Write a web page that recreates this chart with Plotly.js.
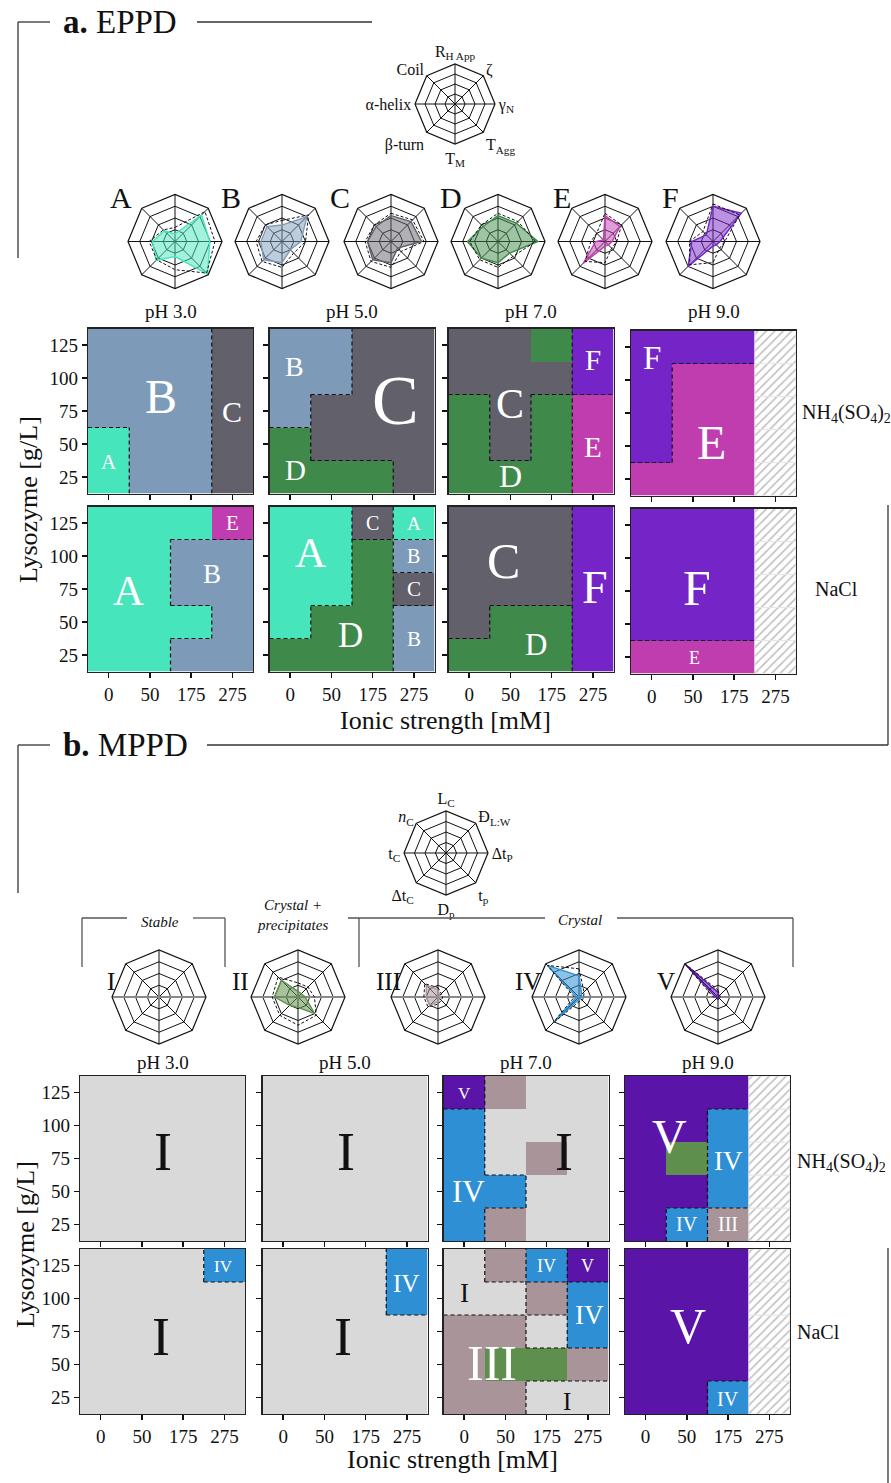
<!DOCTYPE html>
<html>
<head>
<meta charset="utf-8">
<script src="https://cdn.plot.ly/plotly-3.0.1.min.js"></script>
<style>
  html, body { margin: 0; padding: 0; background: #ffffff; }
  #chart { width: 891px; height: 1483px; }
</style>
</head>
<body>
<div id="chart"></div>
<script>
// ---------------------------------------------------------------
// Phase diagrams of lysozyme: EPPD (a) and MPPD (b)
// ---------------------------------------------------------------
const W = 891, H = 1483;
const SERIF = 'Liberation Serif, Times New Roman, serif';

// ---- axes / categories ----
const ionicStrength = ['0', '50', '175', '275'];      // mM
const lysozyme = [25, 50, 75, 100, 125];              // g/L (bottom -> top)
const pHLabels = ['pH 3.0', 'pH 5.0', 'pH 7.0', 'pH 9.0'];
const saltLabels = ['NH<sub>4</sub>(SO<sub>4</sub>)<sub>2</sub>', 'NaCl'];

// ---- phases and colours ----
const eppdPhases = ['A', 'B', 'C', 'D', 'E', 'F'];
const eppdColors = ['#47e5bc', '#7d9bb8', '#62616b', '#3f8a4a', '#c03db0', '#7524c8'];
const mppdPhases = ['I', 'II', 'III', 'IV', 'V'];
const mppdColors = ['#d9d9d9', '#5e8f4c', '#a89499', '#2f8fd4', '#5a14a8'];

// ---- phase grids ----
// rows from 125 g/L (top) down to 25 g/L; columns follow ionicStrength
// 'X' = not measured; 'P(Q)' = an island of phase P lying inside region Q
const eppd_NH4_pH3 = ['B B B C', 'B B B C', 'B B B C', 'A B B C', 'A B B C'];
const eppd_NH4_pH5 = ['B B C C', 'B B C C', 'B C C C', 'D C C C', 'D D D C'];
const eppd_NH4_pH7 = ['C C D(C) F', 'C C C F', 'D C D E', 'D C D E', 'D D D E'];
const eppd_NH4_pH9 = ['F F F X', 'F E E X', 'F E E X', 'F E E X', 'E E E X'];
const eppd_NaCl_pH3 = ['A A A E(A)', 'A A B B', 'A A B B', 'A A A B', 'A A B B'];
const eppd_NaCl_pH5 = ['A A C A', 'A A D B', 'A A D C', 'A D D B', 'D D D B'];
const eppd_NaCl_pH7 = ['C C C F', 'C C C F', 'C C C F', 'C D D F', 'D D D F'];
const eppd_NaCl_pH9 = ['F F F X', 'F F F X', 'F F F X', 'F F F X', 'E E E X'];

const mppd_NH4_pH3 = ['I I I I', 'I I I I', 'I I I I', 'I I I I', 'I I I I'];
const mppd_NH4_pH5 = ['I I I I', 'I I I I', 'I I I I', 'I I I I', 'I I I I'];
const mppd_NH4_pH7 = ['V III(I) I I', 'IV I I I', 'IV I III(I) I', 'IV IV I I', 'IV III(I) I I'];
const mppd_NH4_pH9 = ['V V V X', 'V V IV X', 'V II(V) IV X', 'V V IV X', 'V IV III X'];
const mppd_NaCl_pH3 = ['I I I IV', 'I I I I', 'I I I I', 'I I I I', 'I I I I'];
const mppd_NaCl_pH5 = ['I I I IV', 'I I I IV', 'I I I I', 'I I I I', 'I I I I'];
const mppd_NaCl_pH7 = ['I III IV V', 'I I III IV', 'III III I IV', 'III II(III) II(III) III', 'III III I I'];
const mppd_NaCl_pH9 = ['V V V X', 'V V V X', 'V V V X', 'V V V X', 'V V IV X'];

// ---- radar profiles (normalised 0..1), axes clockwise from the top ----
const eppdAxes = ['R<sub>H App</sub>', 'ζ', 'γ<sub>N</sub>', 'T<sub>Agg</sub>', 'T<sub>M</sub>', 'β-turn', 'α-helix', 'Coil'];
const eppdA = [0.16, 0.80, 0.74, 0.98, 0.32, 0.57, 0.48, 0.32];
const eppdB = [0.35, 0.75, 0.40, 0.25, 0.45, 0.55, 0.45, 0.45];
const eppdC = [0.55, 0.60, 0.65, 0.20, 0.45, 0.55, 0.50, 0.45];
const eppdD = [0.55, 0.55, 0.85, 0.35, 0.45, 0.50, 0.65, 0.45];
const eppdE = [0.55, 0.45, 0.15, 0.10, 0.10, 0.65, 0.20, 0.05];
const eppdF = [0.75, 0.85, 0.15, 0.10, 0.10, 0.75, 0.45, 0.20];
const eppdA_ref = [0.30, 0.90, 0.85, 0.95, 0.60, 0.55, 0.55, 0.35];
const eppdB_ref = [0.45, 0.80, 0.50, 0.35, 0.55, 0.60, 0.55, 0.50];
const eppdC_ref = [0.60, 0.65, 0.70, 0.30, 0.55, 0.60, 0.55, 0.50];
const eppdD_ref = [0.60, 0.60, 0.80, 0.45, 0.55, 0.55, 0.60, 0.50];
const eppdE_ref = [0.60, 0.50, 0.25, 0.20, 0.45, 0.60, 0.30, 0.25];
const eppdF_ref = [0.80, 0.80, 0.25, 0.20, 0.45, 0.70, 0.50, 0.30];

const mppdAxes = ['L<sub>C</sub>', 'Đ<sub>L:W</sub>', 'Δt<sub>P</sub>', 't<sub>p</sub>', 'D<sub>p</sub>', 'Δt<sub>C</sub>', 't<sub>C</sub>', '<i>n</i><sub>C</sub>'];
const mppdI = [0.02, 0.02, 0.02, 0.02, 0.02, 0.02, 0.02, 0.02];
const mppdII = [0.12, 0.10, 0.15, 0.50, 0.22, 0.25, 0.50, 0.50];
const mppdIII = [0.15, 0.05, 0.05, 0.05, 0.10, 0.25, 0.25, 0.35];
const mppdIV = [0.45, 0.08, 0.05, 0.05, 0.05, 0.75, 0.05, 0.95];
const mppdV = [0.10, 0.02, 0.02, 0.02, 0.02, 0.02, 0.05, 1.00];
const mppdII_ref = [0.30, 0.30, 0.35, 0.55, 0.60, 0.55, 0.55, 0.60];
const mppdIII_ref = [0.20, 0.10, 0.10, 0.10, 0.15, 0.30, 0.30, 0.40];
const mppdIV_ref = [0.60, 0.15, 0.10, 0.10, 0.10, 0.80, 0.10, 0.95];
const mppdV_ref = [0.15, 0.05, 0.05, 0.05, 0.05, 0.05, 0.10, 1.00];

// ---------------------------------------------------------------
// layout helpers (pixel -> paper)
// ---------------------------------------------------------------
const px = v => v / W;
const py = v => 1 - v / H;
const dom = (x0, x1, y0, y1) => ({ x: [px(x0), px(x1)], y: [py(y1), py(y0)] });

const traces = [];
const layout = {
  width: W, height: H,
  margin: { l: 0, r: 0, t: 0, b: 0 },
  paper_bgcolor: '#ffffff',
  plot_bgcolor: '#ffffff',
  showlegend: false,
  font: { family: SERIF, color: '#111111', size: 16 },
  annotations: [],
  shapes: []
};

// panel frames in pixels: columns and rows for each section
const eppdCols = [[88, 253], [269.5, 434.5], [448.5, 613.5], [631, 796]];
const eppdRows = [[328.5, 493.5], [506.5, 671.5]];
const mppdCols = [[80, 245], [262.5, 427.5], [443.5, 608.5], [625, 790]];
const mppdRows = [[1076, 1241], [1249, 1414]];

// cell-label placement for each panel: [text, x (column index), y (g/L), font size]
const eppdLabelPlacement = [
  [['A', 0, 36, 21], ['B', 1.27, 86, 48], ['C', 3, 75, 30]],
  [['B', 0.1, 109, 28], ['C', 2.55, 83, 70], ['D', 0.14, 30, 29]],
  [['C', 1.0, 80, 42], ['D', 1.0, 26, 32], ['F', 3.0, 114, 29], ['E', 3.0, 48, 29]],
  [['F', 0.0, 117, 33], ['E', 1.46, 53, 48]],
  [['A', 0.48, 74, 43], ['B', 2.5, 86, 27], ['E', 3.0, 125, 21]],
  [['A', 0.49, 103, 43], ['C', 2.0, 125, 20], ['A', 3.0, 125, 19], ['B', 3.0, 100, 20],
   ['C', 3.0, 75, 21], ['B', 3.0, 37.5, 21], ['D', 1.46, 40, 35]],
  [['C', 0.83, 96, 50], ['F', 3.05, 76, 46], ['D', 1.63, 33, 31]],
  [['F', 1.1, 77, 50], ['E', 1.05, 24.5, 18]]
];
const mppdLabelPlacement = [
  [['I', 1.5, 80, 54]],
  [['I', 1.52, 80, 54]],
  [['V', 0.0, 124.5, 17], ['IV', 0.1, 50, 31], ['I', 2.43, 80, 54]],
  [['V', 0.58, 92, 48], ['IV', 2.0, 73, 27], ['IV', 1.0, 25.5, 20], ['III', 2.0, 25.5, 20]],
  [['IV', 2.97, 124.5, 17], ['I', 1.47, 71, 54]],
  [['IV', 2.97, 111.5, 25], ['I', 1.45, 71, 54]],
  [['IV', 2.0, 125, 18], ['V', 3.0, 125, 18], ['I', 0.0, 104, 27], ['IV', 3.05, 87.5, 27],
   ['III', 0.68, 51, 50], ['I', 2.5, 22, 25]],
  [['V', 1.03, 79, 50], ['IV', 2.0, 24, 20]]
];

// ---------------------------------------------------------------
// phase-diagram panels
// ---------------------------------------------------------------
function parseGrid(rows) {
  // returns cells[r][c] with r = 0 at the lowest lysozyme level
  return rows.slice().reverse().map(row => row.split(' ').map(tok => {
    const m = tok.match(/^([^()]+)(?:\((.+)\))?$/);
    return { shown: m[1], region: m[2] || m[1] };
  }));
}

function mergeSegments(segs) {
  // segs: {fixed, a, b}; merge touching collinear pieces
  const byKey = {};
  segs.forEach(s => { (byKey[s.fixed] = byKey[s.fixed] || []).push(s); });
  const out = [];
  Object.keys(byKey).forEach(k => {
    const list = byKey[k].sort((p, q) => p.a - q.a);
    let cur = Object.assign({}, list[0]);
    for (let i = 1; i < list.length; i++) {
      if (Math.abs(list[i].a - cur.b) < 1e-9) cur.b = list[i].b;
      else { out.push(cur); cur = Object.assign({}, list[i]); }
    }
    out.push(cur);
  });
  return out;
}

const TICKFONT = { family: SERIF, size: 19, color: '#111' };

let axisCount = 0;
function addPanel(rows, phases, colors, frame, opts) {
  axisCount += 1;
  const n = axisCount;
  const xa = n === 1 ? 'x' : 'x' + n;
  const ya = n === 1 ? 'y' : 'y' + n;
  const xKey = n === 1 ? 'xaxis' : 'xaxis' + n;
  const yKey = n === 1 ? 'yaxis' : 'yaxis' + n;
  const cells = parseGrid(rows);
  const half = (lysozyme[1] - lysozyme[0]) / 2;
  const xs = ionicStrength.map((_, i) => i);

  // filled cells
  const z = cells.map(row => row.map(c => (c.shown === 'X' ? null : phases.indexOf(c.shown))));
  const k = phases.length;
  const cs = [];
  colors.forEach((col, i) => { cs.push([i / k, col]); cs.push([(i + 1) / k, col]); });
  traces.push({
    type: 'heatmap', x: xs, y: lysozyme, z: z, xaxis: xa, yaxis: ya,
    colorscale: cs, zmin: -0.5, zmax: k - 0.5, showscale: false,
    hoverinfo: 'skip', xgap: 0, ygap: 0
  });

  // not-measured cells: hatched bars
  const hx = [], hb = [], hy = [];
  cells.forEach((row, r) => row.forEach((c, j) => {
    if (c.shown === 'X') { hx.push(j); hb.push(lysozyme[r] - half); hy.push(2 * half); }
  }));
  if (hx.length) {
    traces.push({
      type: 'bar', x: hx, y: hy, base: hb, width: 1, xaxis: xa, yaxis: ya,
      marker: {
        color: '#ffffff',
        line: { color: '#e6e6e6', width: 1 },
        pattern: { shape: '/', fgcolor: '#bdbdbd', bgcolor: '#ffffff', size: 6, solidity: 0.25 }
      },
      hoverinfo: 'skip'
    });
  }

  // dashed boundaries between phase regions
  const vSegs = [], hSegs = [];
  cells.forEach((row, r) => row.forEach((c, j) => {
    if (c.region === 'X') return;
    const right = row[j + 1];
    if (right && right.region !== 'X' && right.region !== c.region) {
      vSegs.push({ fixed: j + 0.5, a: lysozyme[r] - half, b: lysozyme[r] + half });
    }
    const up = cells[r + 1] ? cells[r + 1][j] : null;
    if (up && up.region !== 'X' && up.region !== c.region) {
      hSegs.push({ fixed: lysozyme[r] + half, a: j - 0.5, b: j + 0.5 });
    }
  }));
  const bx = [], by = [];
  mergeSegments(vSegs).forEach(s => { bx.push(s.fixed, s.fixed, null); by.push(s.a, s.b, null); });
  mergeSegments(hSegs).forEach(s => { bx.push(s.a, s.b, null); by.push(s.fixed, s.fixed, null); });
  if (bx.length) {
    traces.push({
      type: 'scatter', mode: 'lines', x: bx, y: by, xaxis: xa, yaxis: ya,
      line: { color: '#111111', width: 1.2, dash: '4px,3px' },
      hoverinfo: 'skip', connectgaps: false
    });
  }

  // axes
  const d = dom(frame[0], frame[1], frame[2], frame[3]);
  layout[xKey] = {
    domain: d.x, anchor: ya, range: [-0.5, 3.5], fixedrange: true,
    tickmode: 'array', tickvals: xs, ticktext: ionicStrength,
    showticklabels: opts.xLabels, ticks: 'outside', ticklen: 5, tickwidth: 1.3, tickcolor: '#111',
    showline: true, mirror: true, linecolor: '#222', linewidth: 1.2,
    showgrid: false, zeroline: false, tickfont: TICKFONT
  };
  layout[yKey] = {
    domain: d.y, anchor: xa, range: [lysozyme[0] - half, lysozyme[lysozyme.length - 1] + half], fixedrange: true,
    tickmode: 'array', tickvals: lysozyme,
    showticklabels: opts.yLabels, ticks: 'outside', ticklen: 5, tickwidth: 1.3, tickcolor: '#111',
    showline: true, mirror: true, linecolor: '#222', linewidth: 1.2,
    showgrid: false, zeroline: false, tickfont: TICKFONT
  };

  // phase labels
  opts.labels.forEach(([t, x, y, s]) => {
    layout.annotations.push({
      xref: xa, yref: ya, x: x, y: y, text: t, showarrow: false,
      font: { family: SERIF, size: s, color: opts.labelColor(t) },
      xanchor: 'center', yanchor: 'middle'
    });
  });
}

const eppdGrids = [eppd_NH4_pH3, eppd_NH4_pH5, eppd_NH4_pH7, eppd_NH4_pH9,
                   eppd_NaCl_pH3, eppd_NaCl_pH5, eppd_NaCl_pH7, eppd_NaCl_pH9];
const mppdGrids = [mppd_NH4_pH3, mppd_NH4_pH5, mppd_NH4_pH7, mppd_NH4_pH9,
                   mppd_NaCl_pH3, mppd_NaCl_pH5, mppd_NaCl_pH7, mppd_NaCl_pH9];

eppdGrids.forEach((g, i) => {
  const r = Math.floor(i / 4), c = i % 4;
  const f = eppdRows[r].slice();
  if (c === 3) { f[0] += 2; f[1] += 2; }
  addPanel(g, eppdPhases, eppdColors, [eppdCols[c][0], eppdCols[c][1], f[0], f[1]], {
    xLabels: r === 1, yLabels: c === 0, labels: eppdLabelPlacement[i], labelColor: () => '#ffffff'
  });
});
mppdGrids.forEach((g, i) => {
  const r = Math.floor(i / 4), c = i % 4;
  addPanel(g, mppdPhases, mppdColors, [mppdCols[c][0], mppdCols[c][1], mppdRows[r][0], mppdRows[r][1]], {
    xLabels: r === 1, yLabels: c === 0, labels: mppdLabelPlacement[i],
    labelColor: t => (t === 'I' ? '#111111' : '#ffffff')
  });
});

// ---------------------------------------------------------------
// radar charts
// ---------------------------------------------------------------
let polarCount = 0;
function addRadar(cx, cy, r, axesText, values, refValues, color, opts) {
  polarCount += 1;
  const key = polarCount === 1 ? 'polar' : 'polar' + polarCount;
  const cats = axesText.map((_, i) => 'c' + i);
  const close = a => a.concat([a[0]]);
  layout[key] = {
    domain: dom(cx - r, cx + r, cy - r, cy + r),
    gridshape: 'linear',
    bgcolor: 'rgba(0,0,0,0)',
    radialaxis: {
      range: [0, 1], tickvals: [0.25, 0.5, 0.75], showticklabels: false, ticks: '',
      showline: false, gridcolor: '#111111', gridwidth: 1
    },
    angularaxis: {
      type: 'category', categoryarray: cats, direction: 'clockwise', rotation: 90,
      tickmode: 'array', tickvals: cats, ticktext: axesText,
      showticklabels: !!opts.showLabels, ticks: '',
      tickfont: { family: SERIF, size: 16, color: '#111' },
      linecolor: '#111111', linewidth: 1.2, gridcolor: '#111111', gridwidth: 1
    }
  };
  // an invisible anchor trace so that every radar grid is drawn
  traces.push({
    type: 'scatterpolar', subplot: key, mode: 'markers', r: [0], theta: [cats[0]],
    marker: { size: 1, color: 'rgba(0,0,0,0)' }, hoverinfo: 'skip'
  });
  if (opts.graySpoke) {
    traces.push({
      type: 'scatterpolar', subplot: key, mode: 'lines', r: [1, 1], theta: [cats[6], cats[2]],
      line: { color: '#8a8a8a', width: 2.2 }, hoverinfo: 'skip'
    });
  }
  if (values) {
    traces.push({
      type: 'scatterpolar', subplot: key, mode: 'lines', r: close(values), theta: close(cats),
      fill: 'toself', fillcolor: opts.fill, line: { color: color, width: 1.4 }, hoverinfo: 'skip'
    });
  }
  if (refValues) {
    traces.push({
      type: 'scatterpolar', subplot: key, mode: 'lines', r: close(refValues), theta: close(cats),
      line: { color: '#111111', width: 1, dash: '3px,2px' }, hoverinfo: 'skip'
    });
  }
  if (opts.centerDot) {
    traces.push({
      type: 'scatterpolar', subplot: key, mode: 'markers', r: [0], theta: [cats[0]],
      marker: { color: opts.centerDot, size: 6 }, hoverinfo: 'skip'
    });
  }
}

const rgba = (hex, a) => {
  const v = parseInt(hex.slice(1), 16);
  return `rgba(${(v >> 16) & 255},${(v >> 8) & 255},${v & 255},${a})`;
};

const addText = (x, y, text, size, extra) => layout.annotations.push(Object.assign({
  xref: 'paper', yref: 'paper', x: px(x), y: py(y), text: text, showarrow: false,
  xanchor: 'center', yanchor: 'middle', font: { family: SERIF, size: size, color: '#111' }
}, extra || {}));

// key radars
addRadar(455, 104, 40, eppdAxes, null, null, '#000', { showLabels: true });
addRadar(446, 853, 42, mppdAxes, null, null, '#000', { showLabels: true });

// EPPD phase radars
const eppdProfiles = [eppdA, eppdB, eppdC, eppdD, eppdE, eppdF];
const eppdRefs = [eppdA_ref, eppdB_ref, eppdC_ref, eppdD_ref, eppdE_ref, eppdF_ref];
const eppdRadarX = [175, 282, 391, 498, 605, 713];
const eppdLetterX = [121, 231, 340, 451, 562, 670];
eppdProfiles.forEach((vals, i) => {
  addRadar(eppdRadarX[i], 241.5, 47, eppdAxes, vals, eppdRefs[i], eppdColors[i],
           { fill: rgba(eppdColors[i], 0.5) });
  addText(eppdLetterX[i], 197, eppdPhases[i], 30);
});

// MPPD phase radars
const mppdProfiles = [mppdI, mppdII, mppdIII, mppdIV, mppdV];
const mppdRefs = [null, mppdII_ref, mppdIII_ref, mppdIV_ref, mppdV_ref];
const mppdRadarX = [159, 298, 438, 579, 718];
const mppdLetterX = [111, 240, 388, 528, 666];
mppdProfiles.forEach((vals, i) => {
  addRadar(mppdRadarX[i], 997, 47, mppdAxes, i === 0 ? null : vals, mppdRefs[i], mppdColors[i],
           { fill: rgba(mppdColors[i], 0.55), graySpoke: true, centerDot: i === 0 ? '#d9d9d9' : null });
  addText(mppdLetterX[i], 982, mppdPhases[i], 25);
});

// ---------------------------------------------------------------
// titles, axis titles, salt labels, brackets
// ---------------------------------------------------------------
pHLabels.forEach((t, c) => {
  addText((eppdCols[c][0] + eppdCols[c][1]) / 2, 312, t, 19);
  addText((mppdCols[c][0] + mppdCols[c][1]) / 2, 1062, t, 19);
});

addText(120, 22, '<b>a.</b> EPPD', 33);
addText(125, 745, '<b>b.</b> MPPD', 33);

addText(28, 500, 'Lysozyme [g/L]', 26, { textangle: -90 });
addText(25, 1245, 'Lysozyme [g/L]', 26, { textangle: -90 });
addText(445, 720, 'Ionic strength [mM]', 26);
addText(452, 1459, 'Ionic strength [mM]', 26);

addText(846, 413, saltLabels[0], 20);
addText(836, 589, saltLabels[1], 20);
addText(841, 1162, saltLabels[0], 20);
addText(818, 1332, saltLabels[1], 20);

addText(160, 922, '<i>Stable</i>', 15);
addText(292, 915, '<i>Crystal +<br>precipitates</i>', 15);
addText(580, 920, '<i>Crystal</i>', 15);

const line = (x0, y0, x1, y1, color, width) => layout.shapes.push({
  type: 'line', xref: 'paper', yref: 'paper', x0: px(x0), y0: py(y0), x1: px(x1), y1: py(y1),
  line: { color: color || '#333333', width: width || 1.3 }
});
// section brackets
line(18, 22, 50, 22); line(197, 22, 372, 22); line(18, 22, 18, 258);
line(888, 505, 888, 745); line(18, 745, 50, 745); line(207, 745, 888, 745); line(18, 745, 18, 893);
line(888, 1248, 888, 1483);
// MPPD category brackets
line(82, 918, 127, 918, '#555'); line(193, 918, 225, 918, '#555');
line(82, 918, 82, 967, '#555'); line(225, 918, 225, 967, '#555');
line(348, 918, 545, 918, '#555'); line(617, 918, 793, 918, '#555');
line(359, 918, 359, 967, '#555'); line(793, 918, 793, 967, '#555');

Plotly.newPlot('chart', traces, layout, { staticPlot: true, displayModeBar: false });
</script>
</body>
</html>
